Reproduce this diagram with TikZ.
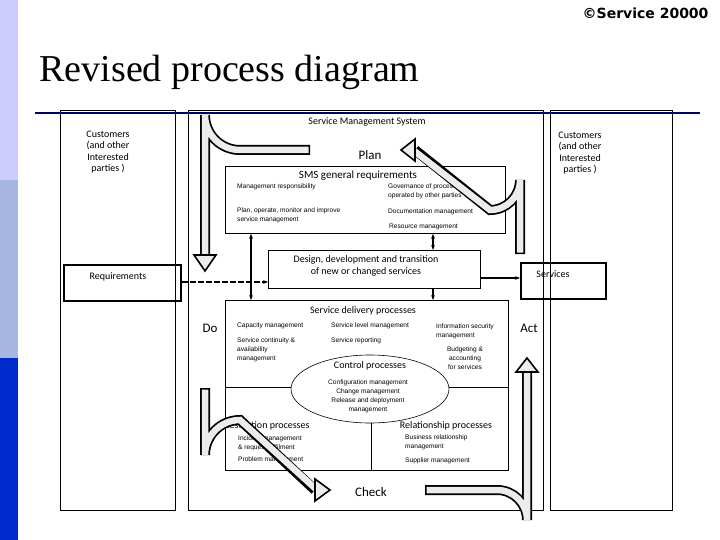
\documentclass[tikz,border=0pt]{standalone}
\usepackage{fontspec}
\usetikzlibrary{shapes.geometric,arrows.meta}
\setmainfont{Carlito}
\newfontfamily\sm{Liberation Sans}
\newfontfamily\ser{Liberation Serif}
\newfontfamily\dv{DejaVu Sans}
\begin{document}
\begin{tikzpicture}[x=1pt,y=-1pt,
 box/.style={draw,line width=0.8pt},
 tbox/.style={draw,line width=1.8pt},
 big/.style={font=\fontsize{11}{12}\selectfont},
 mid/.style={font=\fontsize{10}{11.5}\selectfont},
 sml/.style={font=\sm\fontsize{6.6}{9}\selectfont,align=left,anchor=west,inner sep=0},
 bigarrow/.style={line width=10pt,black},
 bigarrowin/.style={line width=6.5pt,gray!15},
 head/.style={line width=1.6pt,fill=gray!15,line join=miter},
 con/.style={line width=1.6pt,-{Stealth[length=5pt]}},
 dcon/.style={line width=1.6pt,{Stealth[length=5pt]}-{Stealth[length=5pt]}}]
\useasboundingbox (0,0) rectangle (720,540);
\fill[white] (0,0) rectangle (720,540);
\fill[blue!20] (0,0) rectangle (18,180);
\fill[cyan!40!blue!35] (0,180) rectangle (18,358);
\fill[blue!80!cyan!80!black] (0,358) rectangle (18,540);
\node[font=\dv\bfseries\fontsize{14}{15}\selectfont,anchor=east] (cr) at (712,13) {©Service 20000};
\node[font=\ser\fontsize{38}{40}\selectfont,anchor=west] (ti) at (36,72) {Revised process diagram};
% boxes
\node[box,minimum width=115,minimum height=400,anchor=north west,inner sep=0] (lb) at (60,110) {};
\node[box,minimum width=355,minimum height=400,anchor=north west,inner sep=0] (mb) at (188,110) {};
\node[box,minimum width=122,minimum height=400,anchor=north west,inner sep=0] (rb) at (550,110) {};
\draw[line width=2pt,blue!40!black] (35,113) coordinate (h1) -- (700,113) coordinate (h2);
\node[mid,align=center] (cl) at (108,152) {Customers\\(and other\\Interested\\parties )};
\node[mid,align=center] (crt) at (580,153) {Customers\\(and other\\Interested\\parties )};
\node[mid] (sms) at (367,122) {Service Management System};
\node[font=\fontsize{13}{14}\selectfont] (plan) at (370,155) {Plan};
% SMS box
\node[box,fill=white,minimum width=280,minimum height=67,anchor=north west,inner sep=0] (sb) at (225,166) {};
\node[big] (sgr) at (358,176) {SMS general requirements};
\node[sml] (s1) at (237,187) {Management responsibility};
\node[sml] (s2) at (388,191) {Governance of processes\\operated by other parties};
\node[sml] (s3) at (237,215) {Plan, operate, monitor and improve\\service management};
\node[sml] (s4) at (388,212) {Documentation management};
\node[sml] (s5) at (389,227) {Resource management};
% design
\node[box,fill=white,minimum width=212,minimum height=38,anchor=north west,inner sep=0] (db) at (268,250) {};
\node[mid,align=center] (dt) at (366,266) {Design, development and transition\\of new or changed services};
\node[tbox,minimum width=117,minimum height=36,anchor=north west,inner sep=0] (rq) at (63,264) {};
\node[mid] (rqt) at (118,277) {Requirements};
\node[tbox,minimum width=85,minimum height=36,anchor=north west,inner sep=0] (sv) at (520,262) {};
\node[mid] (svt) at (553,274) {Services};
% delivery
\node[box,minimum width=283,minimum height=170,anchor=north west,inner sep=0] (dl) at (225,300) {};
\draw[line width=0.6pt] (dl.west |- 0,387) coordinate (m1) -- (dl.east |- 0,387) coordinate (m2);
\draw[line width=0.6pt] (371,400) coordinate (v1) -- (371,470) coordinate (v2);
\node[draw,fill=white,ellipse,minimum width=158,minimum height=68,inner sep=0,line width=0.6pt] (el) at (370,389) {};
\node[mid] (sdp) at (363,311) {Service delivery processes};
\node[sml] (d1) at (237,326) {Capacity management};
\node[sml] (d2) at (237,350) {Service continuity \&\\availability\\management};
\node[sml] (d3) at (331,326) {Service level management};
\node[sml] (d4) at (331,341) {Service reporting};
\node[sml] (d5) at (436,331) {Information security\\management};
\node[sml,align=center,anchor=center] (d6) at (465,358) {Budgeting \&\\accounting\\for services};
\node[mid] (cp) at (370,366) {Control processes};
\node[sml,align=center,anchor=center] (c1) at (368,396) {Configuration management\\Change management\\Release and deployment\\management};
\node[mid] (rp) at (267,426) {Resolution processes};
\node[sml] (r1) at (238,443) {Incident management\\\& request fulfilment};
\node[sml] (r2) at (238,460) {Problem management};
\node[mid] (lp) at (446,426) {Relationship processes};
\node[sml] (l1) at (405,442) {Business relationship\\management};
\node[sml] (l2) at (405,461) {Supplier management};
\node[font=\fontsize{13}{14}\selectfont] (do) at (210,328) {Do};
\node[font=\fontsize{13}{14}\selectfont] (act) at (529,328) {Act};
\node[font=\fontsize{13}{14}\selectfont] (chk) at (371,492) {Check};
% connectors
\draw[con,dash pattern=on 6pt off 2pt] (rq.east |- 0,282) -- (db.west |- 0,282);
\draw[con] (db.east |- 0,278) -- (sv.west |- 0,278);
\draw[dcon] (sb.south -| 251,0) -- (dl.north -| 251,0);
\draw[dcon] (sb.south -| 433,0) -- (db.north -| 433,0);
\draw[con] (db.south -| 433,0) -- (dl.north -| 433,0);
% big arrows (outline)
\draw[bigarrow] (520,254) -- (520,180) arc[start angle=0,end angle=90,radius=30] -- (415,150);
\draw[bigarrow] (310,150) -- (240,150) arc[start angle=90,end angle=180,radius=35] -- (205,255);
\draw[bigarrow] (205,388) -- (205,455) arc[start angle=180,end angle=270,radius=35] -- (315,490);
\draw[bigarrow] (425,490) -- (497,490) arc[start angle=270,end angle=360,radius=30] -- (527,372);
% big arrows (fill)
\draw[bigarrowin] (520,252.5) -- (520,180) arc[start angle=0,end angle=90,radius=30] -- (413,150);
\draw[bigarrowin] (308.5,150) -- (240,150) arc[start angle=90,end angle=180,radius=35] -- (205,257);
\draw[bigarrowin] (205,389.5) -- (205,455) arc[start angle=180,end angle=270,radius=35] -- (317,490);
\draw[bigarrowin] (426.5,490) -- (497,490) arc[start angle=270,end angle=360,radius=30] -- (527,370);
% heads
\draw[head] (415,139) -- (401,150) -- (415,161) -- cycle;
\draw[head] (194,255) -- (205,271) -- (216,255) -- cycle;
\draw[head] (315,479) -- (330,490) -- (315,501) -- cycle;
\draw[head] (516,372) -- (527,358) -- (538,372) -- cycle;
\end{tikzpicture}
\end{document}
